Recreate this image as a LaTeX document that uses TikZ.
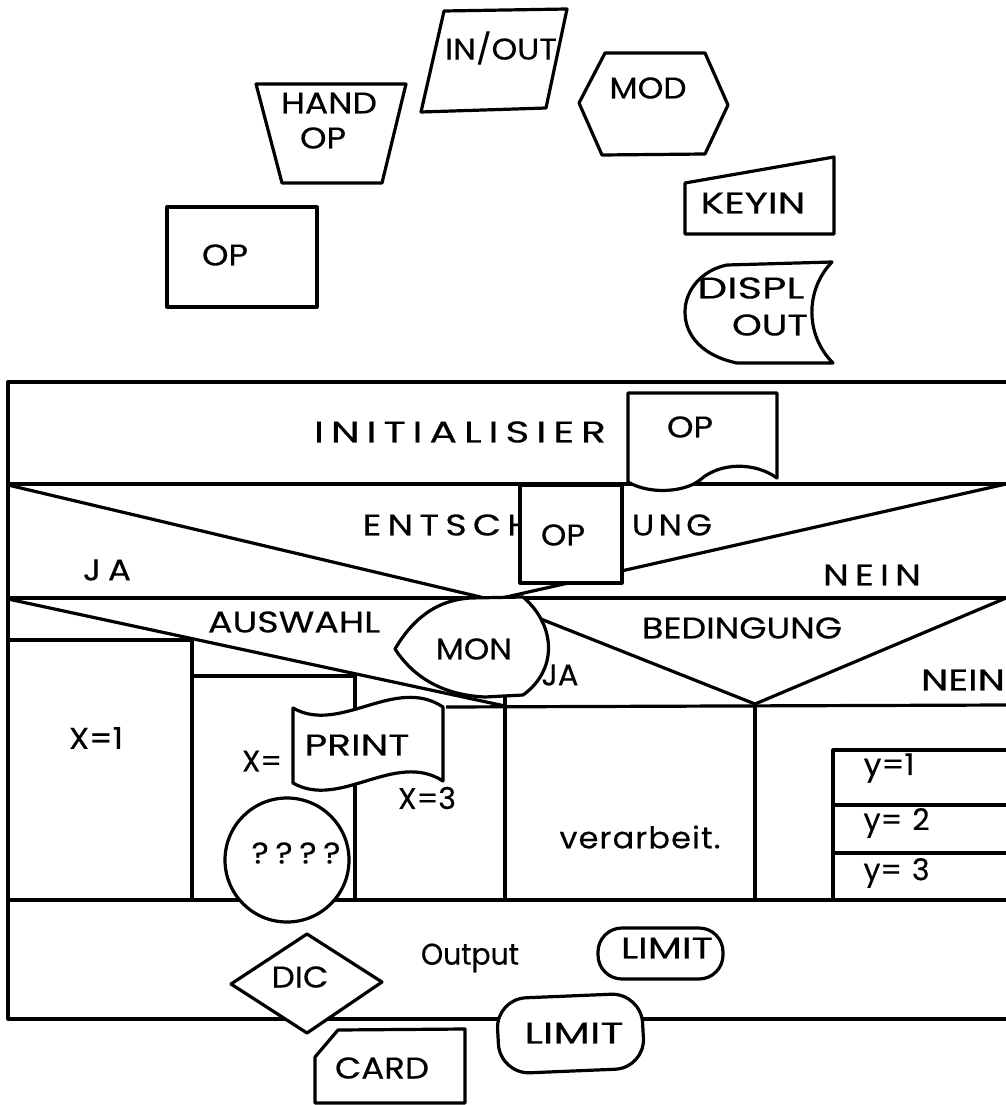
\documentclass[tikz,border=0pt]{standalone}
\usepackage{fontspec}
\usepackage{graphicx}
\newfontfamily\pop[FakeBold=0.3]{Poppins}
\newcommand{\tw}[2]{\resizebox{#1pt}{\height}{#2}}
\makeatletter
\def\spc#1#2{\def\spc@k{#1}\spc@a#2\relax\relax}
\def\spc@a#1#2{#1\ifx\relax#2\else\kern\spc@k\relax\expandafter\spc@a\expandafter#2\fi}
\makeatother
\begin{document}
\begin{tikzpicture}[x=1pt,y=-1pt,line width=3.2pt,line join=round,
  txt/.style={inner sep=0pt,font=\pop\fontsize{30}{32}\selectfont},
  shp/.style={draw=black,fill=white}]
\useasboundingbox[fill=white] (0,0) rectangle (1005,1105);

% ---------- free symbols at the top ----------
\draw (256,84) -- (406,84) -- (382,183) -- (282,183) -- cycle;
\draw (444,11) -- (567,9) -- (546,108) -- (421,112) -- cycle;
\draw (579,103) -- (605,53) -- (705,53) -- (728,105) -- (705,154) -- (602,155) -- cycle;
\draw (685,183) -- (834,157) -- (834,234) -- (685,234) -- cycle;
\draw (167,207) rectangle (317,307);
\draw (727,265) -- (832,262) .. controls (805,290) and (805,335) .. (833,363)
  -- (737,363) .. controls (703,356) and (685,336) .. (685,312)
  .. controls (685,290) and (702,270) .. (727,265) -- cycle;

\node[txt] (thand) at (329,103) {\tw{96}{HAND}};
\node[txt] (thop)  at (323,138) {\tw{46}{OP}};
\node[txt] (tio)   at (501,48)  {\tw{112}{IN/OUT}};
\node[txt] (tmod)  at (648,88)  {\tw{77}{MOD}};
\node[txt] (tkey)  at (753,203) {\tw{105}{KEYIN}};
\node[txt] (top1)  at (225,255) {\tw{46}{OP}};
\node[txt] (tdis)  at (751,288) {\tw{107}{DISPL}};
\node[txt] (tdout) at (770,325) {\tw{76}{OUT}};

% ---------- structogram frame ----------
\draw (1006,382) -- (8,382) -- (8,1019) -- (1006,1019);
\draw (8,484) -- (1006,484);
\draw (8,598) -- (1006,598);
\draw (8,900) -- (1006,900);
\draw (8,485) -- (493,600) -- (1006,484);
\draw (8,599) -- (505,706);
\draw (8,640) -- (192,640) -- (192,900);
\draw (192,676) -- (355,676);
\draw (355,673) -- (355,900);
\draw (446,707) -- (1006,705);
\draw (505,697) -- (505,900);
\draw (493,600) -- (755,704) -- (1006,598);
\draw (755,704) -- (755,900);
\draw (1006,750) -- (833,750) -- (833,900);
\draw (833,805) -- (1006,805);
\draw (833,853) -- (1006,853);

\node[txt] (tinit) at (460,432) {\tw{292}{\spc{5pt}{INITIALISIER}}};
\node[txt,anchor=west] (tent) at (361,525) {\tw{170}{\spc{5pt}{ENTSCH}}};
\node[txt] (tung) at (672,525) {\tw{80}{\spc{4pt}{UNG}}};
\node[txt] (tja1) at (107,570) {\tw{48}{\spc{6pt}{JA}}};
\node[txt] (tnein1) at (872,575) {\tw{98}{\spc{5pt}{NEIN}}};
\node[txt] (taus) at (294,622) {\tw{172}{AUSWAHL}};
\node[txt] (tbed) at (742,628) {\tw{200}{BEDINGUNG}};
\node[txt] (tnein2) at (963,680) {\tw{84}{NEIN}};
\node[txt] (tx1) at (96,738) {\tw{54}{X=1}};
\node[txt] (tx2) at (262,761) {\tw{40}{X=}};
\node[txt] (tx3) at (427,798) {\tw{58}{X=3}};
\node[txt] (tver) at (640,837) {\tw{161}{\spc{1pt}{verarbeit.}}};
\node[txt,anchor=west] (ty1) at (862,768) {\tw{51}{y=1}};
\node[txt,anchor=west] (ty2) at (862,823) {\tw{66}{y=\,\,2}};
\node[txt,anchor=west] (ty3) at (862,873) {\tw{66}{y=\,\,3}};
\node[txt] (tout) at (470,958) {\tw{98}{Output}};

% ---------- symbols placed on the structogram ----------
\draw[shp] (628,393) -- (777,393) -- (777,478) .. controls (755,462) and (720,462) .. (700,480)
  .. controls (685,492) and (650,495) .. (628,482) -- cycle;
\node[txt] (top2) at (690,427) {\tw{46}{OP}};
\draw[shp] (520,485) rectangle (622,583);
\node[txt] (top3) at (563,535) {\tw{44}{OP}};
\draw[shp] (395,649) .. controls (415,615) and (440,600) .. (470,598) -- (523,597)
  .. controls (556,625) and (558,670) .. (523,695) -- (485,697)
  .. controls (440,695) and (412,675) .. (395,649) -- cycle;
\node[txt] (tmon) at (474,649) {\tw{76}{MON}};
\node[txt] (tja2) at (560,675) {\tw{37}{JA}};
\draw[shp] (293,708) .. controls (340,735) and (395,675) .. (443,707) -- (443,781)
  .. controls (395,750) and (340,810) .. (293,783) -- cycle;
\node[txt] (tprint) at (357,745) {\tw{105}{PRINT}};
\draw[shp] (287,860) circle[radius=62];
\node[txt] (tq) at (296,853) {\tw{89}{\spc{6pt}{????}}};
\draw[shp] (307,934) -- (382,982) -- (307,1033) -- (231,984) -- cycle;
\node[txt] (tdic) at (300,977) {\tw{57}{DIC}};
\draw[shp,rounded corners=24pt] (598,928) rectangle (723,979);
\node[txt] (tlim1) at (667,948) {\tw{92}{LIMIT}};
\draw[shp,rounded corners=30pt] (496,999) -- (641,993) -- (645,1068) -- (500,1074) -- cycle;
\node[txt] (tlim2) at (574,1033) {\tw{99}{LIMIT}};
\draw (338,1030) -- (465,1029) -- (465,1103) -- (315,1103) -- (315,1057) -- cycle;
\node[txt] (tcard) at (382,1068) {\tw{94}{CARD}};
\end{tikzpicture}
\end{document}
